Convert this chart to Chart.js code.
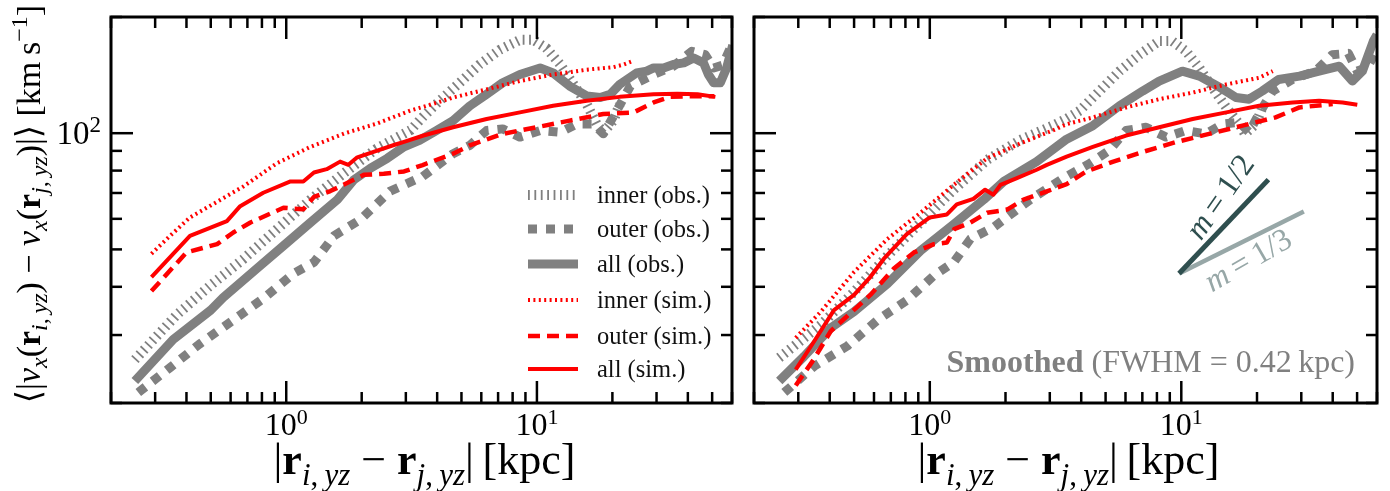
<!DOCTYPE html>
<html><head><meta charset="utf-8">
<script src="https://cdn.jsdelivr.net/npm/chart.js@4.4.1/dist/chart.umd.min.js"></script>
<style>
html,body{margin:0;padding:0;background:#fff;width:1390px;height:491px;overflow:hidden}
canvas{position:absolute;left:0;top:0;width:1390px;height:491px}
</style></head><body>
<canvas id="c1" width="1390" height="491"></canvas>
<canvas id="c2" width="1390" height="491"></canvas>
<script>
// ---------- axis ranges & ticks ----------
const xRange = [0.2, 60];
const yRange = [20, 200];
const xMajor = [1, 10];
const xMinor = [0.2,0.3,0.4,0.5,0.6,0.7,0.8,0.9,2,3,4,5,6,7,8,9,20,30,40,50,60];
const yMajor = [100];
const yMinor = [20,30,40,50,60,70,80,90,200];
const xTickExp = ['0','1'];
const yTickExp = ['2'];

// ---------- legend labels ----------
const seriesLabels = ['inner (obs.)','outer (obs.)','all (obs.)','inner (sim.)','outer (sim.)','all (sim.)'];

// ---------- LEFT panel (raw) ----------
const L_innerObs_x = [0.249,0.365,0.50,0.675,0.918,1.25,1.70,2.3,3.13,3.5,4.09,4.92,5.9,7.1,8.55,9.66,10.9,12.4,14.0,15.8,17.3,18.4,20.2,21.4];
const L_innerObs_y = [25.9,33.8,40.4,47.2,56.4,67.3,78.8,91.3,101.8,110,121.3,135.1,150.6,164.4,174.5,174.5,166.2,150.6,133.8,118.9,105.6,100.6,107.8,118.9];
const L_outerObs_x = [0.257,0.344,0.45,0.615,0.81,1.07,1.29,1.55,1.98,2.6,3.5,4.63,5.4,6.3,7.3,8.55,10.3,12.4,14.4,16.8,18.4,20.8,23.6,29.2,35,41.5,46.9,50.7,55,60];
const L_outerObs_y = [21.3,24.7,28.4,32.8,37.3,43.3,46.3,54.2,59.8,70.8,77.2,88.5,93,101.6,102.6,97.7,101.6,100.6,105.6,105.6,99.6,114.3,132.5,141.9,149.1,163,159.7,147.6,150,170];
const L_allObs_x = [0.249,0.354,0.50,0.56,0.763,0.975,1.25,1.6,1.86,2.17,2.53,2.95,3.4,3.97,4.63,5.4,6.3,7.3,8.55,10.3,11.6,13.5,15.8,17.9,19.6,21.4,25.0,27.4,29.2,32.0,35.0,38.5,42.2,46.2,48.3,50.7,53.9,57.1,60.4];
const L_allObs_y = [22.8,29.2,34.8,37.5,44.6,51.1,58.7,67.3,75.7,81.2,86.1,92.2,95.8,101.6,107.8,117.7,126.1,135.1,141.9,147.6,143.3,132.5,124.9,123.7,126.1,133.8,143.3,144.8,147.6,147.6,150.6,152.1,156.6,152.1,141.9,135.1,135.1,147.6,169];
const L_innerSim_x = [0.29,0.344,0.413,0.50,0.675,0.918,1.25,1.70,2.3,3.13,3.6,4.63,6.3,8.55,11.6,15.8,20.2,22.2,24.0];
const L_innerSim_y = [48.7,54.2,60.5,65.0,72.8,83.6,92.2,99.8,105.9,114.5,117.5,123.7,129.9,136.5,141.9,146.1,148.3,150.6,153.6];
const L_outerSim_x = [0.29,0.40,0.53,0.615,0.72,0.975,1.17,1.29,1.5,1.70,2.04,2.45,2.95,3.5,4.63,5.4,7.3,9.96,13.5,18.4,24.3,29.2,34.0,39.6,46.2,51];
const L_outerSim_y = [39.0,49.1,51.6,55.3,58.7,64.1,63.5,68.4,70.8,73.6,78.0,78.5,79.6,82.7,88.5,93.0,99.6,103.6,107.8,112.1,113.2,120.1,124.2,124.6,124.6,124.6];
const L_allSim_x = [0.29,0.413,0.58,0.655,0.81,1.04,1.17,1.29,1.45,1.64,1.77,1.92,2.23,2.69,2.95,3.5,4.63,6.3,8.55,11.6,15.8,21.4,29.2,36.3,43.7,51.5];
const L_allSim_y = [42.4,54.2,59.2,64.7,70.1,75.0,75.0,79.1,80.7,84.4,82.8,86.6,89.5,93.2,95.0,98.5,103.6,108.8,113.2,117.8,121.3,124.2,126.1,126.6,126.1,124.2];

// ---------- RIGHT panel (smoothed) ----------
const R_innerObs_x = [0.252,0.369,0.50,0.678,0.918,1.245,1.69,2.29,3.1,3.5,3.94,4.73,5.68,6.81,8.17,9.2,10.45,11.8,13.3,15.1,17.0,17.9,19.8,21.0];
const R_innerObs_y = [26.2,31.9,38.8,48.1,58.7,71.4,85.3,96.0,104.8,109,114.3,128.6,144.8,159.7,173.3,173.3,163,147.6,131.2,116.6,105.6,99.6,105.6,116.6];
const R_outerObs_x = [0.264,0.347,0.47,0.62,0.81,1.04,1.245,1.45,1.79,2.51,3.4,4.31,5.18,6.03,7.24,8.7,10.45,12.5,14.6,17.0,18.6,20.7,23.1,27.7,34.2,39.8,46.2,50,55,60];
const R_outerObs_y = [21.3,24.9,28.1,32.8,36.9,42.8,46.3,53.2,57.0,67.3,76.5,83.4,90.3,101.6,103.6,97.7,101.6,99.6,105.6,106.7,100.6,114.3,128.6,137.8,144.8,159.7,161,145,148,165];
const R_allObs_x = [0.252,0.316,0.404,0.50,0.678,0.918,1.245,1.64,1.97,2.66,3.5,4.45,5.68,7.02,8.17,10.1,11.8,14.3,16.5,18.6,21.0,24.4,29.5,35.3,42.5,47.9,52.5,58,60];
const R_allObs_y = [22.8,26.4,31.3,34.5,40.7,49.6,58.1,67.3,75.0,84.4,96.5,104.6,117.8,128.6,136.5,144.8,140.6,131.2,123.7,122.5,128.6,137.8,140.6,144.8,149.1,136.5,144.8,173,180];
const R_innerSim_x = [0.293,0.369,0.50,0.678,0.918,1.245,1.69,2.29,3.1,3.5,4.45,6.03,8.17,11.1,15.1,20.4,23.1];
const R_innerSim_y = [29.5,34.5,43.7,53.2,62.2,73.5,86.1,94.1,101.8,105.5,109.9,116.6,122.5,127.4,133.8,139.2,144.8];
const R_outerSim_x = [0.293,0.341,0.404,0.515,0.58,0.72,0.865,1.04,1.17,1.25,1.45,1.69,2.03,2.36,2.92,3.5,4.18,5.33,7.02,9.5,12.9,17.5,23.7,29.5,34.2,40];
const R_outerSim_y = [22.2,25.6,30.7,35.5,38.1,44.6,49.1,51.6,52.1,56.4,58.7,62.2,63.4,67.3,70.7,73.8,79.5,84.3,89.4,94.8,99.6,104.6,109.9,116.6,117.8,119];
const R_allSim_x = [0.293,0.341,0.416,0.50,0.58,0.657,0.81,1.0,1.17,1.28,1.49,1.66,1.79,1.91,2.22,2.66,2.92,3.5,4.45,6.03,8.17,11.1,15.1,20.4,27.7,35.3,43.8,50.1];
const R_allSim_y = [24.4,28.4,34.8,38.1,42.4,47.3,54.8,60.5,61.6,65.4,67.6,71.4,69.3,73.5,76.5,80.4,82.8,87,92.1,98.6,103.6,108.8,113.2,117.8,120.1,121.3,120.1,118.5];

// reference slope lines (right panel)
const slopeHalf_x = [9.8, 22.2];
const slopeHalf_y = [43.3, 75.8];
const slopeThird_x = [9.8, 30.7];
const slopeThird_y = [43.3, 62.7];

// ---------- styles ----------
const STY = [
  {c:'#808080', w:10, d:[1.8,4.6]},   // inner obs (hatched)
  {c:'#808080', w:9, d:[9,9]},        // outer obs
  {c:'#808080', w:9, d:[]},           // all obs
  {c:'#ff0000', w:4, d:[2,3.4]},      // inner sim
  {c:'#ff0000', w:4.5, d:[12,7]},     // outer sim
  {c:'#ff0000', w:4, d:[]}            // all sim
];
const SERIF = '"Liberation Serif","DejaVu Serif",serif';

function pts(xs, ys){ return xs.map((x,i)=>({x:x, y:ys[i]})); }
function mkDatasets(list){
  return list.map((p,i)=>({
    label: seriesLabels[i], data: pts(p[0],p[1]),
    borderColor: STY[i].c, borderWidth: STY[i].w, borderDash: STY[i].d,
    borderCapStyle:'butt', borderJoinStyle:'round',
    pointRadius:0, fill:false, tension:0, clip:0, order: 20 - i
  }));
}

function fnt(s){ return (s.st||'normal') + ' ' + s.size + 'px ' + SERIF; }
function drawRich(ctx, segs, x, y, align){
  let w = 0;
  segs.forEach(s=>{ ctx.font = fnt(s); s.w = ctx.measureText(s.t).width; w += s.w; });
  let cx = align==='center' ? x - w/2 : (align==='right' ? x - w : x);
  ctx.textAlign = 'left'; ctx.textBaseline = 'alphabetic';
  segs.forEach(s=>{ ctx.font = fnt(s); if (s.color) ctx.fillStyle = s.color; ctx.fillText(s.t, cx, y + (s.dy||0)); cx += s.w; });
  return w;
}

function xTitleSegs(){
  const B = 44, S = 31;
  return [
    {t:'|', size:B}, {t:'r', size:B, st:'bold'}, {t:'i', size:S, st:'italic', dy:11}, {t:',\u2009', size:S, dy:11}, {t:'yz', size:S, st:'italic', dy:11},
    {t:' \u2212 ', size:B}, {t:'r', size:B, st:'bold'}, {t:'j', size:S, st:'italic', dy:11}, {t:',\u2009', size:S, dy:11}, {t:'yz', size:S, st:'italic', dy:11},
    {t:'|\u2009[kpc]', size:B}
  ];
}

function framePlugin(isLeft){
  return {
    id:'frame'+(isLeft?'L':'R'),
    afterDraw(chart){
      const ctx = chart.ctx, a = chart.chartArea;
      const xs = chart.scales.x, ys = chart.scales.y;
      ctx.save();
      ctx.strokeStyle = '#000'; ctx.fillStyle = '#000'; ctx.setLineDash([]);
      ctx.lineWidth = 2.5; ctx.lineCap = 'butt';
      const tick = (x1,y1,x2,y2)=>{ ctx.beginPath(); ctx.moveTo(x1,y1); ctx.lineTo(x2,y2); ctx.stroke(); };
      xMajor.forEach(v=>{ const p = xs.getPixelForValue(v); tick(p,a.bottom,p,a.bottom-22); tick(p,a.top,p,a.top+22); });
      xMinor.forEach(v=>{ const p = xs.getPixelForValue(v); tick(p,a.bottom,p,a.bottom-11); tick(p,a.top,p,a.top+11); });
      yMajor.forEach(v=>{ const p = ys.getPixelForValue(v); tick(a.left,p,a.left+22,p); tick(a.right,p,a.right-22,p); });
      yMinor.forEach(v=>{ const p = ys.getPixelForValue(v); tick(a.left,p,a.left+11,p); tick(a.right,p,a.right-11,p); });
      ctx.lineWidth = 3;
      ctx.strokeRect(a.left, a.top, a.right-a.left, a.bottom-a.top);
      ctx.fillStyle = '#000';
      xMajor.forEach((v,i)=>{
        const p = xs.getPixelForValue(v);
        drawRich(ctx, [{t:'10', size:32},{t:xTickExp[i], size:22, dy:-11}], p, 435, 'center');
      });
      drawRich(ctx, xTitleSegs(), (a.left+a.right)/2+3, 474, 'center');
      if (isLeft){
        yMajor.forEach((v,i)=>{
          const p = ys.getPixelForValue(v);
          drawRich(ctx, [{t:'10', size:33},{t:yTickExp[i], size:23, dy:-12}], 101, p+11, 'right');
        });
        ctx.save();
        ctx.translate(40, 204);
        ctx.rotate(-Math.PI/2);
        const B = 34, S = 24;
        drawRich(ctx, [
          {t:'\u27E8|', size:B}, {t:'v', size:B, st:'italic'}, {t:'x', size:S, st:'italic', dy:7}, {t:'(', size:B},
          {t:'r', size:B, st:'bold'}, {t:'i', size:S, st:'italic', dy:7}, {t:',\u2009', size:S, dy:7}, {t:'yz', size:S, st:'italic', dy:7}, {t:')', size:B},
          {t:' \u2212 ', size:B}, {t:'v', size:B, st:'italic'}, {t:'x', size:S, st:'italic', dy:7}, {t:'(', size:B},
          {t:'r', size:B, st:'bold'}, {t:'j', size:S, st:'italic', dy:7}, {t:',\u2009', size:S, dy:7}, {t:'yz', size:S, st:'italic', dy:7}, {t:')|\u27E9 [km\u2009s', size:B},
          {t:'\u22121', size:S, dy:-13}, {t:']', size:B}
        ], 0, 0, 'center');
        ctx.restore();
        const ly = [195, 229, 264, 300, 336, 369];
        chart.data.datasets.slice(0,6).forEach((ds,i)=>{
          ctx.save();
          ctx.strokeStyle = ds.borderColor; ctx.lineWidth = ds.borderWidth; ctx.setLineDash(ds.borderDash); ctx.lineCap='butt';
          ctx.beginPath(); ctx.moveTo(528, ly[i]); ctx.lineTo(578, ly[i]); ctx.stroke();
          ctx.restore();
          ctx.fillStyle = '#111';
          drawRich(ctx, [{t:ds.label, size:24.5}], 597, ly[i]+8, 'left');
        });
      } else {
        drawRich(ctx, [{t:'Smoothed', size:32, st:'bold', color:'#808080'},{t:' (FWHM = 0.42\u2009kpc)', size:32, color:'#808080'}], 1355, 372, 'right');
        ctx.save();
        ctx.translate(1220, 197); ctx.rotate(-55*Math.PI/180);
        ctx.fillStyle = '#2f4f4f';
        drawRich(ctx, [{t:'m', size:32, st:'italic'},{t:'\u2009=\u20091/2', size:32}], 0, 10, 'center');
        ctx.restore();
        ctx.save();
        ctx.translate(1248, 260); ctx.rotate(-30*Math.PI/180);
        ctx.fillStyle = '#97a7a7';
        drawRich(ctx, [{t:'m', size:32, st:'italic'},{t:'\u2009=\u20091/3', size:32}], 0, 10, 'center');
        ctx.restore();
      }
      ctx.restore();
    }
  };
}

function makeChart(id, list, padding, isLeft, extra){
  const ds = mkDatasets(list).concat(extra||[]);
  return new Chart(document.getElementById(id), {
    type:'line',
    data:{ datasets: ds },
    options:{
      responsive:false, animation:false, devicePixelRatio:1,
      layout:{ padding: padding },
      plugins:{ legend:{display:false}, tooltip:{enabled:false} },
      scales:{
        x:{ type:'logarithmic', min:xRange[0], max:xRange[1], display:false },
        y:{ type:'logarithmic', min:yRange[0], max:yRange[1], display:false }
      }
    },
    plugins:[framePlugin(isLeft)]
  });
}

makeChart('c1', [
  [L_innerObs_x, L_innerObs_y],[L_outerObs_x, L_outerObs_y],[L_allObs_x, L_allObs_y],
  [L_innerSim_x, L_innerSim_y],[L_outerSim_x, L_outerSim_y],[L_allSim_x, L_allSim_y]
], {left:111, right:1390-732, top:17, bottom:491-403}, true);

makeChart('c2', [
  [R_innerObs_x, R_innerObs_y],[R_outerObs_x, R_outerObs_y],[R_allObs_x, R_allObs_y],
  [R_innerSim_x, R_innerSim_y],[R_outerSim_x, R_outerSim_y],[R_allSim_x, R_allSim_y]
], {left:754, right:1390-1377, top:17, bottom:491-403}, false, [
  {label:'m = 1/2', data:pts(slopeHalf_x, slopeHalf_y), borderColor:'#2f4f4f', borderWidth:5, pointRadius:0, fill:false, clip:0, order:1},
  {label:'m = 1/3', data:pts(slopeThird_x, slopeThird_y), borderColor:'#97a7a7', borderWidth:4.5, pointRadius:0, fill:false, clip:0, order:2}
]);
</script>
</body></html>
